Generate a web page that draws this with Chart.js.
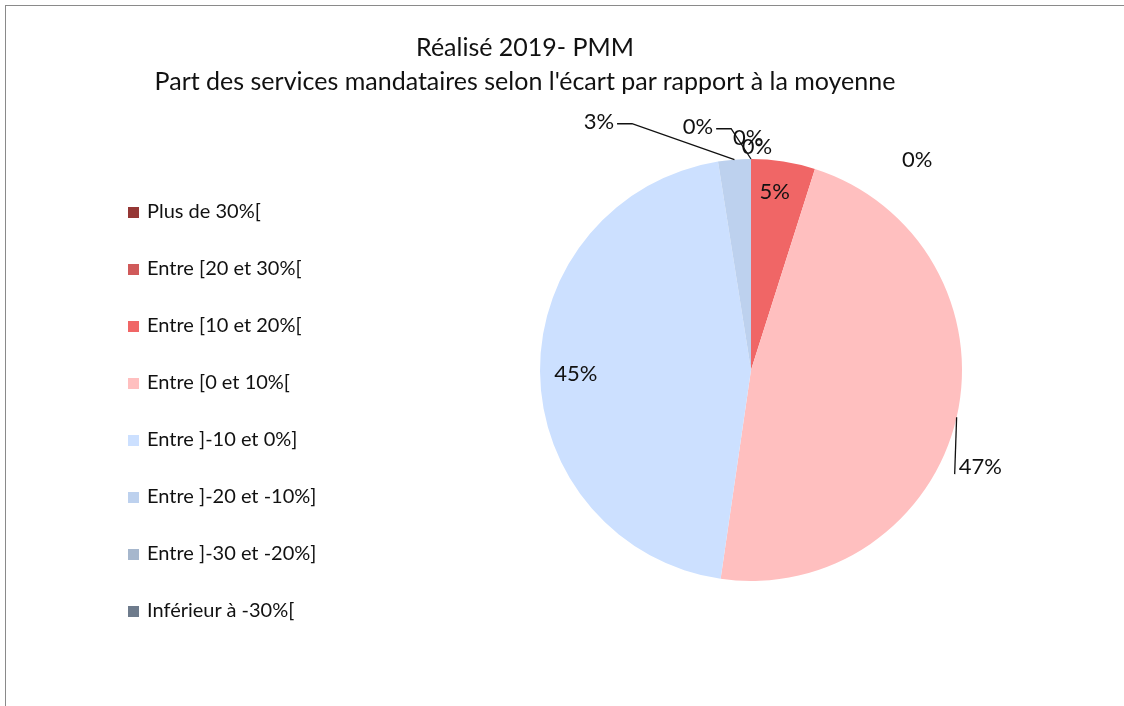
<!DOCTYPE html>
<html>
<head>
<meta charset="utf-8">
<script src="https://cdn.jsdelivr.net/npm/chart.js@4/dist/chart.umd.min.js"></script>
<style>
	html, body { margin: 0; padding: 0; background: #fff; overflow: hidden; }
	#wrap { position: relative; width: 1124px; height: 706px; font-family: Lato, "DejaVu Sans", sans-serif; color: #111; }
	#frame { position: absolute; left: 5px; top: 5px; width: 1300px; height: 900px; border-left: 1.5px solid #8a8a8a; border-top: 1.5px solid #8a8a8a; }
	#canvas { position: absolute; left: 0; top: 0; }
	#title { position: absolute; left: 6px; width: 1038px; top: 29px; text-align: center; font-size: 25px; line-height: 34px; }
	#legend { position: absolute; left: 128px; top: 196px; margin: 0; padding: 0; list-style: none; font-size: 20px; }
	#legend li { height: 57px; line-height: 28px; white-space: nowrap; }
	#legend span { display: inline-block; width: 11px; height: 11px; margin-right: 8px; }
</style>
</head>
<body>
<div id="wrap">
	<div id="frame"></div>
	<canvas id="canvas" width="1124" height="706"></canvas>
	<div id="title">Réalisé 2019- PMM<br>Part des services mandataires selon l'écart par rapport à la moyenne</div>
	<ul id="legend"></ul>
</div>
<script>
const categories = [
	"Plus de 30%[",
	"Entre [20 et 30%[",
	"Entre [10 et 20%[",
	"Entre [0 et 10%[",
	"Entre ]-10 et 0%]",
	"Entre ]-20 et -10%]",
	"Entre ]-30 et -20%]",
	"Inférieur à -30%[",
];
const shares = [0, 0, 4.9, 47.4, 45.2, 2.5, 0, 0];
const colors = ["#953735", "#D05A5A", "#F06666", "#FFBFBF", "#CCE0FF", "#BDD1EE", "#A6B7CD", "#6E7B8C"];

// label placement: distance (x radius) and angle shift (deg) from the slice middle
const labelDist = [1.10, 1.06, 0.85, 1.18, 0.83, 1.38, 1.18, 1.27];
const labelShift = [-0.7, 1.5, -1.2, 10, -0.8, -27, -12.3, 38.3];
const leaders = [null, null, null, "below", null, "side", "side", null];

window.onload = () => {
	const ctx = document.getElementById("canvas").getContext("2d");

	const pieLabels = {
		id: "pieLabels",
		afterDatasetsDraw(chart) {
			const c = chart.ctx;
			const arcs = chart.getDatasetMeta(0).data;
			const total = shares.reduce((a, b) => a + b, 0);
			c.save();
			c.font = "22px Lato";
			c.fillStyle = "#111";
			c.strokeStyle = "#111";
			c.lineWidth = 1.3;
			c.textAlign = "center";
			c.textBaseline = "middle";
			arcs.forEach((arc, i) => {
				const mid = (arc.startAngle + arc.endAngle) / 2;
				const a = mid + labelShift[i] * Math.PI / 180;
				const r = arc.outerRadius;
				const x = arc.x + Math.cos(a) * r * labelDist[i];
				const y = arc.y + Math.sin(a) * r * labelDist[i];
				const text = Math.round(shares[i] / total * 100) + "%";
				const w = c.measureText(text).width;
				const ex = arc.x + Math.cos(mid) * r;
				const ey = arc.y + Math.sin(mid) * r;
				if (leaders[i] === "side") {
					const sx = x + w / 2 + 3;
					c.beginPath();
					c.moveTo(ex, ey);
					c.lineTo(sx + 15, y + 2);
					c.lineTo(sx, y + 2);
					c.stroke();
				} else if (leaders[i] === "below") {
					c.beginPath();
					c.moveTo(ex, ey);
					c.lineTo(x - w / 2 - 4, y + 7);
					c.stroke();
				}
				c.fillText(text, x, y);
			});
			c.restore();
		},
	};

	const chart = new Chart(ctx, {
		type: "pie",
		data: {
			labels: categories,
			datasets: [{
				data: shares,
				backgroundColor: colors,
				borderWidth: 0,
				hoverOffset: 0,
			}],
		},
		options: {
			responsive: false,
			animation: false,
			events: [],
			layout: {
				padding: { left: 540, right: 162, top: 159, bottom: 125 },
			},
			plugins: {
				legend: { display: false },
				title: { display: false },
				tooltip: { enabled: false },
			},
		},
		plugins: [pieLabels],
	});

	// html legend built from the chart's own labels
	const list = document.getElementById("legend");
	chart.options.plugins.legend.labels.generateLabels(chart).forEach((item) => {
		const li = document.createElement("li");
		const box = document.createElement("span");
		box.style.background = item.fillStyle;
		li.appendChild(box);
		li.appendChild(document.createTextNode(item.text));
		list.appendChild(li);
	});
}
</script>
</body>
</html>
